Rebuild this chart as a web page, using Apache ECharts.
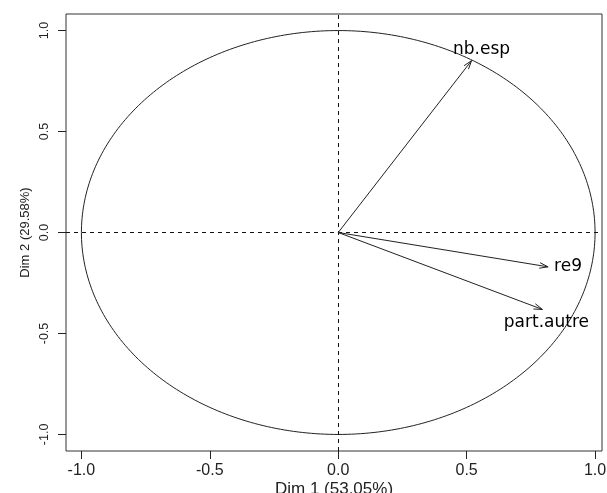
<!DOCTYPE html>
<html>
<head>
<meta charset="utf-8">
<script src="https://cdn.jsdelivr.net/npm/echarts@6/dist/echarts.min.js"></script>
<style>html,body{margin:0;padding:0;background:#fff}#c{width:607px;height:493px}</style>
</head>
<body>
<div id="c"></div>
<script>
// ---- data ----
const tickValues = [-1.0, -0.5, 0.0, 0.5, 1.0];
const varNames = ['nb.esp', 're9', 'part.autre'];
const dim1 = [0.519, 0.817, 0.795];
const dim2 = [0.851, -0.170, -0.381];
const xTitle = 'Dim 1 (53.05%)';
const yTitle = 'Dim 2 (29.58%)';

// ---- styles (label offsets in px relative to arrow tip) ----
const labelStyle = {
  'nb.esp':     {dx: 10, dy: -11, align: 'center', vAlign: 'middle'},
  're9':        {dx: 6,  dy: 0,   align: 'left',   vAlign: 'middle'},
  'part.autre': {dx: 4,  dy: 13,  align: 'center', vAlign: 'middle'}
};

// unit circle (reference shape)
const circle = [];
for (let i = 0; i <= 360; i++) {
  const a = i * Math.PI / 180;
  circle.push([Math.cos(a), Math.sin(a)]);
}

const fmt = v => v.toFixed(1);
const chart = echarts.init(document.getElementById('c'));
chart.setOption({
  animation: false,
  backgroundColor: '#fff',
  grid: {left: 66, right: 5, top: 14, bottom: 42, show: true, borderColor: '#333', borderWidth: 1,
    containLabel: false, outerBoundsMode: 'none'},
  xAxis: {
    type: 'value', min: -1.06, max: 1.027, position: 'bottom',
    name: xTitle, nameLocation: 'middle', nameGap: 30, nameMoveOverlap: false,
    nameTextStyle: {fontFamily: 'Liberation Sans', fontSize: 17, color: '#222'},
    axisLine: {show: false, onZero: false},
    splitLine: {show: false},
    axisTick: {show: true, length: 8, lineStyle: {color: '#222'}, customValues: tickValues},
    axisLabel: {customValues: tickValues, formatter: fmt, margin: 12,
      fontFamily: 'Liberation Sans', fontSize: 16, color: '#222'}
  },
  yAxis: {
    type: 'value', min: -1.082, max: 1.082, position: 'left',
    name: yTitle, nameLocation: 'middle', nameGap: 34, nameMoveOverlap: false,
    nameTextStyle: {fontFamily: 'Liberation Sans', fontSize: 13, color: '#222'},
    axisLine: {show: false, onZero: false},
    splitLine: {show: false},
    axisTick: {show: true, length: 8, lineStyle: {color: '#222'}, customValues: tickValues},
    axisLabel: {customValues: tickValues, formatter: fmt, margin: 15, rotate: 90,
      fontFamily: 'Liberation Sans', fontSize: 12.5, color: '#222'}
  },
  series: [
    {
      type: 'line', data: circle, showSymbol: false, silent: true,
      lineStyle: {color: '#222', width: 1}, z: 2,
      markLine: {
        silent: true, symbol: ['none', 'none'], label: {show: false},
        lineStyle: {color: '#111', type: [4, 4], width: 1},
        data: [{xAxis: 0}, {yAxis: 0}]
      }
    },
    {
      type: 'custom', z: 5,
      data: dim1.map((x, i) => [x, dim2[i], i]),
      renderItem: function (params, api) {
        const o = api.coord([0, 0]);
        const t = api.coord([api.value(0), api.value(1)]);
        const name = varNames[api.value(2)];
        const ang = Math.atan2(t[1] - o[1], t[0] - o[0]);
        const L = 9, A = 18 * Math.PI / 180;
        const h1 = [t[0] - L * Math.cos(ang - A), t[1] - L * Math.sin(ang - A)];
        const h2 = [t[0] - L * Math.cos(ang + A), t[1] - L * Math.sin(ang + A)];
        const ls = {stroke: '#222', lineWidth: 1, fill: null};
        const s = labelStyle[name];
        return {
          type: 'group',
          children: [
            {type: 'line', shape: {x1: o[0], y1: o[1], x2: t[0], y2: t[1]}, style: ls},
            {type: 'polyline', shape: {points: [h1, t, h2]}, style: ls},
            {type: 'text', x: t[0] + s.dx, y: t[1] + s.dy,
              style: {text: name, fill: '#000', font: '17px "DejaVu Sans"',
                align: s.align, verticalAlign: s.vAlign}}
          ]
        };
      }
    }
  ]
});
</script>
</body>
</html>
